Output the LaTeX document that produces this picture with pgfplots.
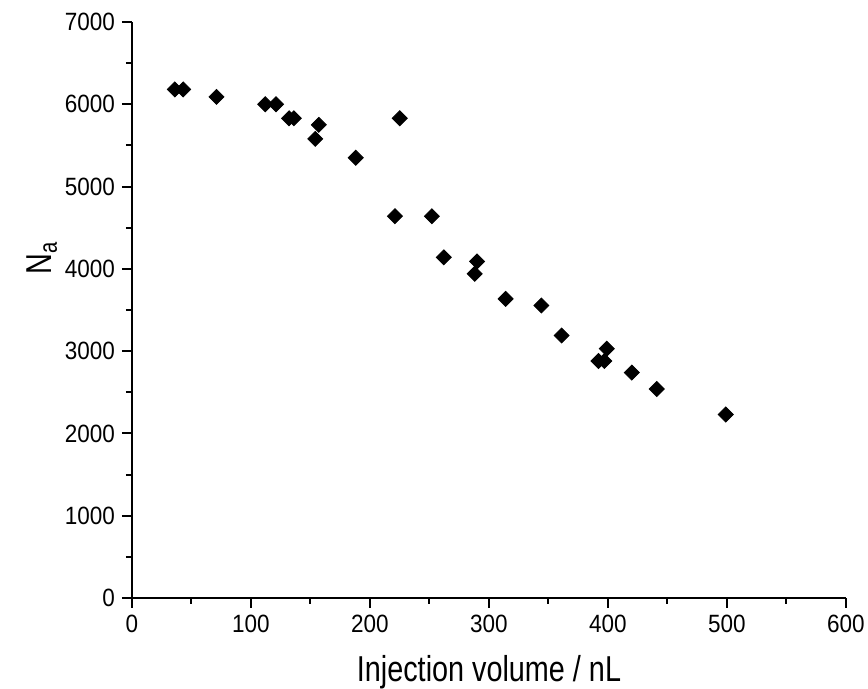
\documentclass[border=0pt]{standalone}
\usepackage{fontspec}
\setmainfont{Liberation Sans}
\newfontfamily\narrowsans[FakeStretch=0.8]{Liberation Sans}
\newfontfamily\ticksans[FakeStretch=0.9]{Liberation Sans}
\newcommand\tickfont{\fontsize{12.5}{14}\selectfont\ticksans}
\usepackage{pgfplots}
\pgfplotsset{compat=1.18}

\begin{document}
\begin{tikzpicture}
\path[use as bounding box] (-66pt,-45.5pt) rectangle (368pt,299pt);
\begin{axis}[
    at={(0,0)}, anchor=origin,
    scale only axis,
    width=357pt, height=288pt,
    xmin=0, xmax=600, ymin=0, ymax=7000,
    axis x line*=bottom, axis y line*=left,
    axis line style={line width=1pt, -},
    xtick={0,100,...,600}, ytick={0,1000,...,7000},
    minor x tick num=1, minor y tick num=1,
    tick align=outside,
    major tick length=5pt, minor tick length=3pt,
    every tick/.style={black, line width=1pt},
    xticklabel={\tickfont\pgfmathprintnumber[assume math mode=true,int detect]{\tick}},
    yticklabel={\tickfont\pgfmathprintnumber[assume math mode=true,int detect,set thousands separator={}]{\tick}},
    xlabel={Injection volume / nL},
    ylabel={N\textsubscript{a}},
    xlabel style={font=\fontsize{18}{20}\selectfont\narrowsans, at={(axis description cs:0.5,0)}, anchor=center, yshift=-37pt},
    ylabel style={font=\fontsize{18}{20}\selectfont\narrowsans, at={(axis description cs:-0.126,0.59)}, anchor=center},
]
\addplot[only marks, mark=square*, mark size=2.65pt, black, every mark/.append style={rotate=45}] coordinates {
    (36,6180) (43,6180) (71,6090) (112,6000) (121,6000)
    (132,5830) (136,5830) (157,5750) (154,5580) (188,5350)
    (225,5830) (221,4640) (252,4640) (262,4140) (290,4090)
    (288,3940) (314,3635) (344,3555) (361,3190) (392,2880)
    (397,2880) (399,3030) (420,2740) (441,2540) (499,2230)
};
\end{axis}
\end{tikzpicture}
\end{document}
